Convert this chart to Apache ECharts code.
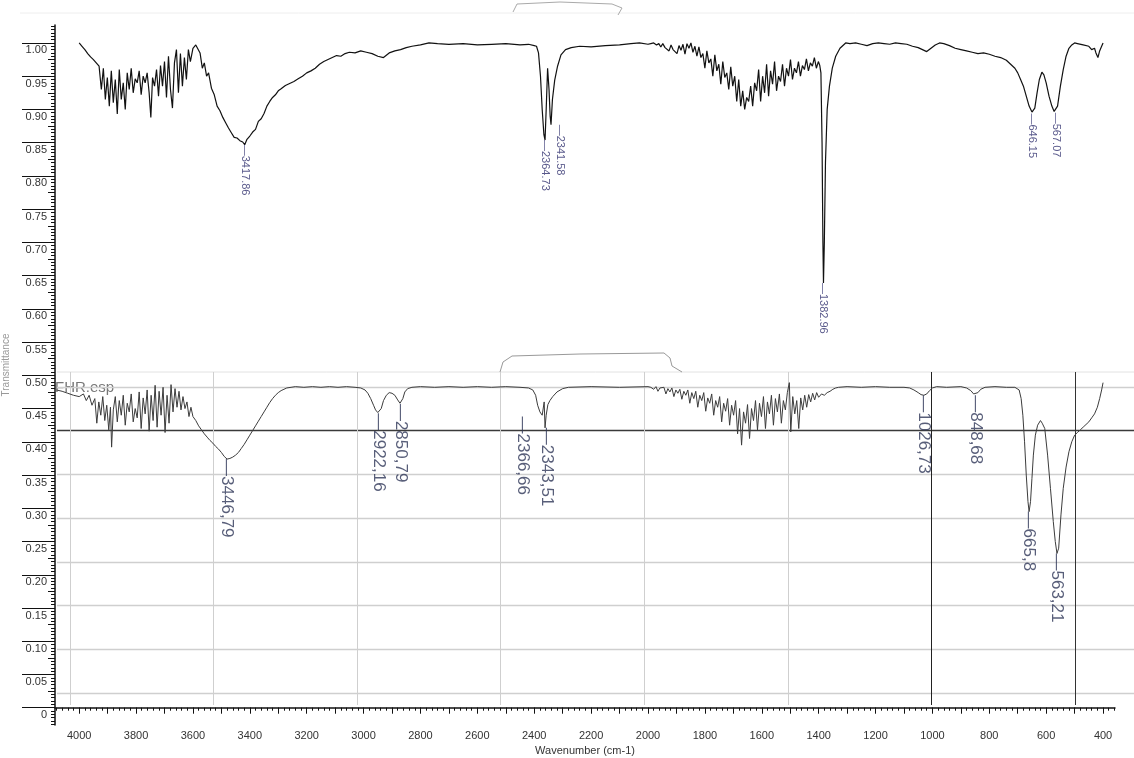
<!DOCTYPE html>
<html>
<head>
<meta charset="utf-8">
<title>FTIR</title>
<script src="https://cdn.jsdelivr.net/npm/echarts@6.0.0/dist/echarts.min.js"></script>
<style>
	html, body { margin: 0; padding: 0; background: #fff; }
	#content { width: 1134px; height: 758px; }
</style>
</head>
<body>
<div id="content"></div>
<script>
// upper spectrum (wavenumber / transmittance)
const wnTop = [4000,3990,3980,3970,3960,3950,3940,3930,3922,3915,3908,3901,3894,3887,3880,3873,3866,3859,3852,3845,3838,3831,3824,3817,3810,3803,3796,3789,3782,3775,3768,3761,3754,3748,3742,3735,3728,3721,3714,3707,3700,3693,3686,3679,3672,3665,3658,3651,3644,3637,3630,3623,3616,3609,3600,3590,3585,3575,3567,3560,3552,3545,3535,3525,3515,3505,3495,3485,3475,3465,3455,3445,3435,3425,3418,3410,3400,3390,3380,3370,3360,3350,3340,3330,3320,3310,3300,3290,3275,3260,3245,3230,3215,3200,3185,3170,3155,3140,3125,3110,3095,3080,3065,3050,3030,3010,2990,2970,2950,2930,2910,2890,2870,2850,2830,2800,2770,2740,2700,2650,2600,2550,2500,2450,2420,2400,2392,2385,2378,2372,2366,2362,2358,2353,2348,2344,2341,2336,2328,2318,2306,2290,2270,2240,2200,2150,2100,2060,2030,2000,1990,1980,1970,1962,1955,1948,1940,1933,1926,1919,1912,1905,1898,1891,1884,1877,1870,1863,1856,1849,1842,1835,1828,1821,1814,1807,1800,1793,1786,1779,1772,1765,1758,1751,1744,1737,1730,1723,1716,1709,1702,1695,1688,1681,1674,1667,1660,1653,1646,1639,1632,1625,1618,1611,1604,1597,1590,1583,1576,1569,1562,1555,1548,1541,1534,1527,1520,1513,1506,1499,1492,1485,1478,1471,1464,1457,1450,1443,1436,1429,1422,1415,1408,1401,1396,1392,1388,1385,1383,1380,1376,1370,1362,1352,1340,1325,1305,1290,1270,1250,1230,1210,1190,1170,1150,1130,1110,1090,1070,1050,1035,1020,1005,990,975,960,940,920,900,880,860,840,820,800,780,760,740,725,710,700,690,680,670,660,650,646,640,632,624,615,608,600,590,580,572,567,560,550,540,530,520,510,500,490,470,450,440,430,425,418,412,405,400];
const tTop = [1.000,0.995,0.990,0.984,0.979,0.975,0.970,
	0.965,0.930,0.962,0.915,0.948,0.905,0.958,0.910,0.945,0.893,0.960,0.915,0.940,0.900,0.955,0.930,0.962,0.925,0.946,0.940,0.958,0.922,0.950,0.940,0.955,0.925,0.888,0.948,0.935,0.960,0.920,0.966,0.935,0.972,0.918,0.980,0.930,0.902,0.970,0.990,0.925,0.984,0.935,0.978,0.945,0.990,0.972,0.992,
	0.997,1.000,0.985,0.962,0.970,0.950,0.955,0.932,0.922,0.905,0.898,0.888,0.880,0.872,0.865,0.858,0.857,0.853,0.851,0.847,0.855,0.860,0.866,0.870,0.882,0.886,0.894,0.905,0.912,0.918,0.922,0.928,0.931,0.936,0.939,0.942,0.946,0.950,0.955,0.958,0.962,0.968,0.972,0.975,0.978,0.981,0.980,0.984,0.986,0.985,0.988,0.986,0.984,0.980,0.978,0.985,0.988,0.990,0.993,0.995,0.997,1.000,0.999,0.998,0.999,0.997,0.998,0.999,0.997,0.998,0.996,
	0.995,0.985,0.950,0.900,0.862,0.854,0.900,0.962,0.930,0.890,0.877,0.915,0.944,0.965,0.982,0.990,0.993,0.995,0.994,0.996,0.997,0.999,1.000,0.998,
	0.999,1.000,0.997,0.999,0.994,0.999,0.993,0.996,0.988,0.997,0.990,0.993,0.984,0.996,0.989,0.998,0.983,0.999,0.992,1.000,0.986,0.995,0.980,0.994,0.978,0.984,0.962,0.988,0.970,0.976,0.950,0.982,0.958,0.968,0.938,0.972,0.948,0.955,0.930,0.964,0.935,0.950,0.912,0.945,0.905,0.928,0.900,0.918,0.912,0.935,0.905,0.940,0.928,0.960,0.912,0.950,0.925,0.968,0.920,0.958,0.938,0.972,0.928,0.950,0.942,0.968,0.935,0.962,0.950,0.975,0.945,0.962,0.955,0.972,0.950,0.966,0.960,0.976,0.958,0.970,0.965,0.978,0.962,0.972,0.966,
	0.955,0.850,0.700,0.639,0.700,0.820,0.900,0.935,0.962,0.980,0.992,1.000,0.999,1.000,0.998,0.996,0.999,1.000,0.999,0.998,1.000,0.999,0.998,0.995,0.993,0.990,0.987,0.992,0.997,1.000,0.999,0.996,0.992,0.990,0.988,0.986,0.984,0.985,0.983,0.980,0.978,0.974,0.968,0.962,0.955,0.945,0.935,0.920,0.905,0.896,0.894,0.902,0.925,0.945,0.956,0.952,0.940,0.920,0.905,0.897,0.895,0.905,0.935,0.960,0.980,0.992,0.997,1.000,0.999,0.997,0.995,0.990,0.992,0.985,0.978,0.988,0.995,1.000];

// lower spectrum
const wnBottom = [4080,4060,4040,4020,4000,3985,3975,3965,3955,3945,3938,3931,3924,3917,3910,3903,3896,3890,3886,3880,3873,3866,3859,3852,3845,3838,3831,3824,3817,3810,3803,3796,3789,3782,3775,3768,3761,3754,3747,3740,3733,3726,3719,3712,3705,3698,3691,3684,3677,3670,3663,3656,3649,3642,3635,3628,3621,3614,3607,3600,3590,3580,3570,3560,3550,3540,3530,3520,3510,3500,3490,3480,3470,3460,3450,3440,3430,3420,3410,3400,3390,3380,3370,3360,3350,3340,3330,3320,3310,3300,3290,3280,3270,3255,3240,3210,3180,3150,3120,3090,3060,3030,3010,2995,2985,2975,2965,2958,2950,2945,2938,2930,2920,2910,2900,2890,2880,2872,2868,2862,2855,2845,2830,2800,2750,2700,2650,2600,2550,2500,2450,2420,2405,2395,2388,2380,2372,2368,2365,2362,2358,2352,2345,2335,2320,2300,2280,2200,2100,2000,1990,1980,1972,1965,1958,1951,1944,1937,1930,1923,1916,1909,1902,1895,1888,1881,1874,1867,1860,1853,1846,1839,1832,1825,1818,1811,1804,1797,1790,1783,1776,1769,1762,1755,1748,1741,1734,1727,1720,1713,1706,1699,1692,1685,1678,1671,1664,1657,1650,1643,1636,1629,1622,1615,1608,1601,1594,1587,1580,1573,1566,1559,1552,1545,1538,1531,1524,1517,1510,1503,1498,1491,1484,1477,1470,1463,1456,1449,1442,1435,1428,1421,1414,1407,1400,1390,1380,1370,1360,1350,1340,1330,1300,1250,1200,1150,1100,1080,1065,1050,1040,1030,1020,1010,1000,985,950,900,880,865,855,848,840,830,815,780,740,710,695,688,682,676,670,664,660,655,650,645,638,630,620,614,605,595,585,575,568,562,556,548,540,530,520,510,500,490,480,470,460,450,440,430,420,412,405,400];
const tBottom = [0.478,0.476,0.473,0.470,0.468,
	0.472,0.462,0.470,0.455,0.465,0.428,0.460,0.440,0.468,0.432,0.455,0.418,0.452,0.392,0.448,0.468,0.430,0.462,0.440,0.470,0.425,0.458,0.445,0.472,0.430,0.450,0.436,0.475,0.420,0.466,0.442,0.478,0.416,0.470,0.432,0.485,0.422,0.476,0.440,0.482,0.414,0.470,0.428,0.486,0.445,0.480,0.452,0.476,0.448,0.468,0.450,0.460,0.438,0.452,0.438,
	0.432,0.424,0.418,0.412,0.407,0.402,0.398,0.393,0.389,0.384,0.378,0.374,0.375,0.377,0.380,0.384,0.390,0.396,0.403,0.410,0.417,0.424,0.431,0.438,0.445,0.452,0.459,0.465,0.470,0.474,0.477,0.479,0.481,0.482,0.483,0.482,0.483,0.482,0.483,0.482,0.483,0.482,0.481,0.478,0.473,0.465,0.455,0.448,0.444,0.443,0.450,0.462,0.470,0.474,0.473,0.470,0.463,0.458,0.457,0.465,0.475,0.480,0.482,0.483,0.482,0.483,0.482,0.483,0.482,0.483,0.482,0.481,0.478,0.470,0.455,0.445,0.440,0.438,0.460,0.421,0.440,0.456,0.462,0.468,0.475,0.480,0.482,0.483,0.482,0.483,
	0.482,0.479,0.483,0.476,0.481,0.478,0.482,0.472,0.480,0.475,
	0.481,0.468,0.478,0.473,0.479,0.464,0.476,0.470,0.478,0.458,
	0.474,0.465,0.476,0.452,0.470,0.462,0.474,0.446,0.466,0.458,
	0.472,0.440,0.462,0.452,0.468,0.430,0.458,0.446,0.465,0.425,
	0.455,0.440,0.462,0.412,0.450,0.395,0.445,0.428,0.456,0.405,
	0.450,0.432,0.462,0.418,0.458,0.438,0.468,0.420,0.460,0.442,
	0.470,0.425,0.465,0.445,0.472,0.428,0.462,0.448,0.474,0.489,
	0.415,0.468,0.442,0.462,0.420,0.466,0.448,0.470,0.452,0.471,
	0.460,0.473,0.463,0.474,0.467,
	0.472,0.470,0.474,0.476,0.479,0.481,0.482,0.483,0.482,0.483,0.482,0.482,0.481,0.478,0.474,0.471,0.470,0.472,0.477,0.481,0.483,0.482,0.483,0.481,0.477,0.472,0.470,0.474,0.479,0.482,0.483,0.482,0.482,0.478,0.465,0.440,0.400,0.350,0.310,0.295,0.310,0.345,0.380,0.410,0.425,0.432,0.428,0.420,0.380,0.330,0.280,0.250,0.232,0.240,0.290,0.330,0.362,0.385,0.400,0.410,0.414,0.418,0.422,0.426,0.430,0.436,0.442,0.452,0.465,0.478,0.489];

// peak picks: [wavenumber, value, text, sideways shift in px]
const peaksTop = [[3418,0.847,'3417.86',0],[2362,0.854,'2364.73',0],[2341,0.877,'2341.58',9],[1383,0.639,'1382.96',0],[648,0.894,'646.15',0],[567,0.895,'567.07',0]];
const peaksBottom = [[3480,0.374,'3446,79',0],[2946,0.443,'2922,16',0],[2868,0.457,'2850,79',0],[2372,0.438,'2366,66',-20],[2362,0.421,'2343,51',2],[1030,0.470,'1026,73',0],[848,0.470,'848,68',0],[660,0.295,'665,8',0],[562,0.232,'563,21',0]];

// axis labels
const xLabelValues = [4000,3800,3600,3400,3200,3000,2800,2600,2400,2200,2000,1800,1600,1400,1200,1000,800,600,400];
const yLabelValues = [0,0.05,0.10,0.15,0.20,0.25,0.30,0.35,0.40,0.45,0.50,0.55,0.60,0.65,0.70,0.75,0.80,0.85,0.90,0.95,1.00];

let xMajor = [], xMinor = [], yMinor = [], yMid = [];
for (let w = 400; w <= 4000; w += 100) xMajor.push(w);
for (let w = 360; w <= 4080; w += 20) xMinor.push(w);
for (let i = -5; i <= 205; i++) yMinor.push(+(i * 0.005).toFixed(3));
for (let i = 0; i <= 40; i++) if (i % 2) yMid.push(+(i * 0.025).toFixed(3));

const X_MIN = 358, X_MAX = 4085, Y_MIN = -0.026, Y_MAX = 1.027;
const font = 'Liberation Sans, Arial, sans-serif';

function zip(a, b) {
	return a.map((v, i) => [v, b[i]]);
}

function peakSeries(peaks, size, color) {
	// label is turned -90deg, so its local y offset moves it sideways on screen
	return {
		type: 'scatter', xAxisIndex: 0, yAxisIndex: 0, symbolSize: 1, silent: true, z: 5,
		itemStyle: { color: 'rgba(0,0,0,0)' },
		data: peaks.map(p => ({ value: [p[0], p[1]], name: p[2], label: { offset: [0, -p[3]] } })),
		label: {
			show: true, position: 'inside', rotate: -90, align: 'left', verticalAlign: 'middle',
			formatter: d => '\u2014' + d.name, fontSize: size, color: color, fontFamily: font
		}
	};
}

let gridLine = '#cfcfcf';
let chart = echarts.init(document.getElementById('content'));
chart.setOption({
	animation: false,
	backgroundColor: '#fff',
	grid: [
		{ left: 55, right: 19, top: 25, bottom: 33, outerBoundsMode: 'none', containLabel: false },
		{ left: 57, right: 0, top: 387, bottom: 65, outerBoundsMode: 'none', containLabel: false },
		{ left: 70, right: 59, top: 372, bottom: 53, outerBoundsMode: 'none', containLabel: false }
	],
	xAxis: [{
		type: 'value', gridIndex: 0, position: 'bottom', inverse: true, min: X_MIN, max: X_MAX,
		name: 'Wavenumber (cm-1)', nameLocation: 'middle', nameGap: 19,
		nameTextStyle: { fontSize: 11, color: '#333', fontFamily: font },
		axisLine: { lineStyle: { color: '#111', width: 1.5 } },
		axisTick: { length: 6, customValues: xMajor, lineStyle: { color: '#111' } },
		axisLabel: { customValues: xLabelValues, fontSize: 11, color: '#333', margin: 5, fontFamily: font, formatter: v => String(v) },
		splitLine: { show: false }
	}, {
		type: 'value', gridIndex: 0, position: 'bottom', inverse: true, min: X_MIN, max: X_MAX,
		axisLine: { show: false },
		axisTick: { length: 3, customValues: xMinor, lineStyle: { color: '#111' } },
		axisLabel: { show: false }, splitLine: { show: false }
	}, {
		type: 'value', gridIndex: 1, position: 'bottom', min: 0, max: 1,
		axisLine: { show: false }, axisTick: { show: false }, axisLabel: { show: false }, splitLine: { show: false }
	}, {
		type: 'value', gridIndex: 2, position: 'bottom', min: 0, max: 7, interval: 1,
		axisLine: { show: false }, axisTick: { show: false }, axisLabel: { show: false },
		splitLine: { show: true, lineStyle: { width: 1, color: [gridLine, gridLine, gridLine, gridLine, gridLine, gridLine, '#222', '#333'] } }
	}],
	yAxis: [{
		type: 'value', gridIndex: 0, position: 'left', min: Y_MIN, max: Y_MAX,
		name: 'Transmittance', nameLocation: 'middle', nameRotate: 90, nameGap: 44,
		nameTextStyle: { fontSize: 10, color: '#999', fontFamily: font, padding: [0, 0, 0, 20] },
		axisLine: { show: true, lineStyle: { color: '#111', width: 1.5 } },
		axisTick: { show: true, length: 33, customValues: yLabelValues, lineStyle: { color: '#111' } },
		axisLabel: {
			customValues: yLabelValues, margin: 8, verticalAlign: 'top', padding: [2, 0, 0, 0],
			fontSize: 11, color: '#333', fontFamily: font,
			formatter: v => (v === 0 ? '0' : v.toFixed(2))
		},
		splitLine: { show: false }
	}, {
		type: 'value', gridIndex: 0, position: 'left', min: Y_MIN, max: Y_MAX,
		axisLine: { show: false },
		axisTick: { show: true, length: 4, customValues: yMinor, lineStyle: { color: '#111' } },
		axisLabel: { show: false }, splitLine: { show: false }
	}, {
		type: 'value', gridIndex: 0, position: 'left', min: Y_MIN, max: Y_MAX,
		axisLine: { show: false },
		axisTick: { show: true, length: 7, customValues: yMid, lineStyle: { color: '#111' } },
		axisLabel: { show: false }, splitLine: { show: false }
	}, {
		type: 'value', gridIndex: 1, position: 'left', min: 0, max: 7, interval: 1,
		axisLine: { show: false }, axisTick: { show: false }, axisLabel: { show: false },
		splitLine: { show: true, lineStyle: { width: 1.3, color: [gridLine, gridLine, gridLine, gridLine, gridLine, gridLine, '#3a3a3a', gridLine] } }
	}, {
		type: 'value', gridIndex: 2, position: 'left', min: 0, max: 1,
		axisLine: { show: false }, axisTick: { show: false }, axisLabel: { show: false }, splitLine: { show: false }
	}],
	graphic: [
		{ type: 'line', shape: { x1: 20, y1: 13, x2: 1134, y2: 13 }, style: { stroke: '#eee', lineWidth: 1 } },
		{ type: 'line', shape: { x1: 57, y1: 372, x2: 1134, y2: 372 }, style: { stroke: '#e2e2e2', lineWidth: 1 } },
		{ type: 'polyline', shape: { points: [[500, 372], [503, 362], [512, 356], [580, 354], [664, 353], [670, 358], [672, 366], [682, 372]] }, style: { stroke: '#999', lineWidth: 1, fill: null } },
		{ type: 'polyline', shape: { points: [[513, 12], [517, 4], [560, 2], [612, 4], [622, 8], [618, 15]] }, style: { stroke: '#aaa', lineWidth: 1, fill: null } },
		{ type: 'text', left: 55, top: 380, style: { text: 'FHR.esp', fontSize: 15, fill: '#777', fontFamily: font } }
	],
	series: [{
		type: 'line', xAxisIndex: 0, yAxisIndex: 0, data: zip(wnBottom, tBottom),
		symbol: 'none', z: 3, lineStyle: { color: '#3c3c3c', width: 1 }
	}, {
		type: 'line', xAxisIndex: 0, yAxisIndex: 0, data: zip(wnTop, tTop),
		symbol: 'none', z: 4, lineStyle: { color: '#111', width: 1.2 }
	},
		peakSeries(peaksTop, 11, '#30306e'),
		peakSeries(peaksBottom, 17, '#2e3658')
	]
});
</script>
</body>
</html>
